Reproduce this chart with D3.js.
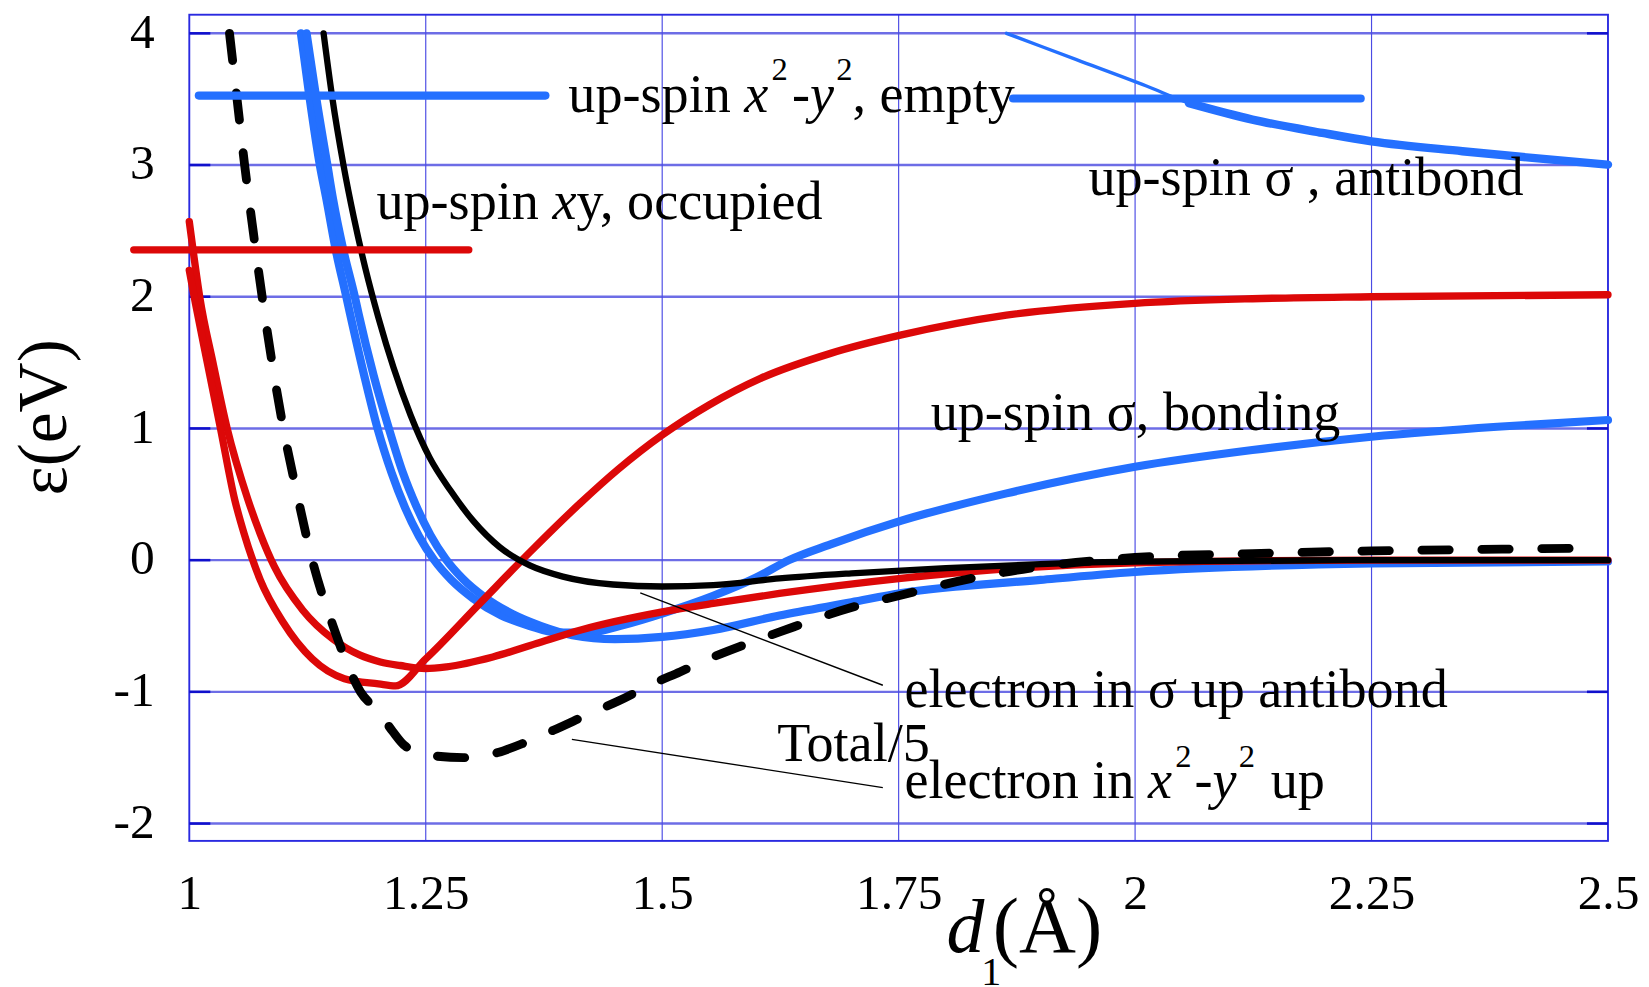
<!DOCTYPE html>
<html><head><meta charset="utf-8">
<script src="https://cdn.jsdelivr.net/npm/d3@7"></script>
<style>
html,body{margin:0;padding:0;background:#fff;overflow:hidden;}
svg{display:block;}
text{font-family:"Liberation Serif","Times New Roman",serif;fill:#000;white-space:pre;}
</style></head><body>
<svg id="chart"></svg>
<script>
// ---------- data ----------
const xTicks = [1, 1.25, 1.5, 1.75, 2, 2.25, 2.5];
const xTickLabels = ["1", "1.25", "1.5", "1.75", "2", "2.25", "2.5"];
const yTicks = [-2, -1, 0, 1, 2, 3, 4];
const yTickLabels = ["-2", "-1", "0", "1", "2", "3", "4"];

// [d1 (Å), ε (eV)]
const redOccupied = [[1.000,2.20],[1.0065,1.95],[1.019,1.50],[1.033,1.00],[1.048,0.46],[1.058,0.20],[1.075,-0.15],[1.099,-0.47],[1.130,-0.75],[1.164,-0.90],[1.200,-0.94],[1.218,-0.955],[1.250,-0.75],[1.307,-0.33],[1.360,0.06],[1.413,0.43],[1.4535,0.69],[1.500,0.95],[1.550,1.18],[1.604,1.38],[1.678,1.57],[1.753,1.71],[1.864,1.86],[2.000,1.95],[2.124,1.985],[2.250,2.00],[2.500,2.015]];
const redElectron = [[1.000,2.57],[1.005,2.30],[1.011,2.00],[1.025,1.50],[1.040,1.00],[1.062,0.46],[1.075,0.20],[1.090,-0.05],[1.120,-0.38],[1.152,-0.60],[1.180,-0.72],[1.202,-0.773],[1.223,-0.80],[1.250,-0.823],[1.272,-0.81],[1.321,-0.735],[1.367,-0.633],[1.413,-0.532],[1.500,-0.393],[1.554,-0.329],[1.624,-0.253],[1.750,-0.14],[1.875,-0.06],[2.000,-0.02],[2.250,0.00],[2.500,0.00]];
const blueBonding = [[1.118,4.00],[1.127,3.52],[1.138,3.00],[1.145,2.74],[1.155,2.35],[1.166,2.00],[1.170,1.87],[1.185,1.40],[1.199,1.00],[1.214,0.66],[1.228,0.40],[1.243,0.18],[1.259,0.00],[1.277,-0.15],[1.300,-0.29],[1.330,-0.42],[1.360,-0.50],[1.388,-0.55],[1.420,-0.55],[1.460,-0.49],[1.500,-0.405],[1.554,-0.27],[1.600,-0.13],[1.634,0.00],[1.678,0.12],[1.753,0.30],[1.864,0.507],[2.000,0.709],[2.124,0.836],[2.250,0.937],[2.383,1.013],[2.500,1.064]];
const blueElectron = [[1.124,4.00],[1.134,3.52],[1.146,3.00],[1.152,2.74],[1.163,2.35],[1.175,2.00],[1.179,1.87],[1.195,1.40],[1.211,1.00],[1.226,0.66],[1.240,0.41],[1.255,0.19],[1.271,0.01],[1.289,-0.14],[1.312,-0.28],[1.342,-0.41],[1.372,-0.50],[1.405,-0.57],[1.450,-0.60],[1.500,-0.583],[1.554,-0.53],[1.624,-0.42],[1.700,-0.32],[1.753,-0.25],[1.900,-0.15],[2.000,-0.09],[2.250,-0.025],[2.500,-0.01]];
const blueAntibond = [[1.864,4.00],[1.938,3.80],[2.012,3.60],[2.057,3.47],[2.124,3.345],[2.198,3.244],[2.250,3.18],[2.346,3.105],[2.420,3.054],[2.500,3.003]];
const blackSigmaElectron = [[1.142,4.00],[1.151,3.52],[1.163,3.00],[1.174,2.60],[1.186,2.22],[1.200,1.84],[1.216,1.46],[1.234,1.10],[1.254,0.78],[1.276,0.53],[1.300,0.30],[1.328,0.10],[1.360,-0.04],[1.395,-0.125],[1.448,-0.185],[1.500,-0.20],[1.554,-0.19],[1.624,-0.139],[1.700,-0.10],[1.800,-0.06],[1.900,-0.03],[2.000,-0.012],[2.250,0.00],[2.500,0.00]];
const blackTotal5 = [[1.0425,4.00],[1.0505,3.50],[1.0585,3.00],[1.0675,2.50],[1.0770,2.00],[1.0875,1.50],[1.0995,1.00],[1.1140,0.50],[1.1300,0.00],[1.1520,-0.50],[1.1810,-1.00],[1.200,-1.15],[1.215,-1.30],[1.228,-1.41],[1.2546,-1.482],[1.2898,-1.50],[1.3215,-1.47],[1.3567,-1.38],[1.3849,-1.292],[1.4236,-1.165],[1.4553,-1.064],[1.4905,-0.937],[1.5187,-0.849],[1.5539,-0.735],[1.5856,-0.646],[1.6243,-0.545],[1.700,-0.36],[1.750,-0.27],[1.826,-0.14],[1.900,-0.05],[2.000,0.02],[2.124,0.05],[2.250,0.07],[2.350,0.08],[2.470,0.09]];

// ---------- layout ----------
const W = 1568, H = 939;
const RED = "#dc0808", BLUE = "#2470ff";
const svg = d3.select("#chart").attr("width", 1649).attr("height", 987)
  .attr("viewBox", `0 0 ${W} ${H}`).attr("preserveAspectRatio", "none");
const x = d3.scaleLinear().domain([1, 2.5]).range([180, 1529]);
const y = d3.scaleLinear().domain([-2, 4]).range([783.5, 31.7]);
const frameTop = 14, frameBottom = 800;

// grid
const grid = svg.append("g");
grid.selectAll("line.h").data(yTicks).join("line").attr("class", "h")
  .attr("x1", x(1)).attr("x2", x(2.5)).attr("y1", d => y(d)).attr("y2", d => y(d))
  .attr("stroke", "#6d6de6").attr("stroke-width", 2.3);
grid.selectAll("line.v").data(xTicks.slice(1, -1)).join("line").attr("class", "v")
  .attr("x1", d => x(d)).attr("x2", d => x(d)).attr("y1", frameTop).attr("y2", frameBottom)
  .attr("stroke", "#4b4be4").attr("stroke-width", 1.1);
grid.append("rect").attr("x", x(1)).attr("y", frameTop).attr("width", x(2.5) - x(1))
  .attr("height", frameBottom - frameTop).attr("fill", "none").attr("stroke", "#2a2ae0").attr("stroke-width", 1.8);
grid.selectAll("line.tl").data(yTicks).join("line").attr("class", "tl")
  .attr("x1", x(1)).attr("x2", x(1) + 20).attr("y1", d => y(d)).attr("y2", d => y(d))
  .attr("stroke", "#1010cc").attr("stroke-width", 2.4);
grid.selectAll("line.tr").data(yTicks).join("line").attr("class", "tr")
  .attr("x1", x(2.5) - 20).attr("x2", x(2.5)).attr("y1", d => y(d)).attr("y2", d => y(d))
  .attr("stroke", "#1010cc").attr("stroke-width", 2.4);

// axes (labels only)
const ax = svg.append("g").attr("transform", "translate(0,865)")
  .call(d3.axisBottom(x).tickValues(xTicks).tickFormat((d, i) => xTickLabels[i]).tickSize(0));
ax.select(".domain").remove();
ax.selectAll("text").attr("y", 0).attr("dy", 0).attr("font-size", 47)
  .attr("font-family", "Liberation Serif, Times New Roman, serif").attr("fill", "#000");
const ay = svg.append("g").attr("transform", "translate(147,0)")
  .call(d3.axisLeft(y).tickValues(yTicks).tickFormat((d, i) => yTickLabels[i]).tickSize(0));
ay.select(".domain").remove();
ay.selectAll("text").attr("x", 0).attr("dy", 13).attr("font-size", 47)
  .attr("font-family", "Liberation Serif, Times New Roman, serif").attr("fill", "#000");

// curves
const line = d3.line().x(d => x(d[0])).y(d => y(d[1])).curve(d3.curveMonotoneX);
const curves = svg.append("g").attr("fill", "none").attr("stroke-linecap", "round").attr("stroke-linejoin", "round");
function draw(data, color, width, dash) {
  const p = curves.append("path").datum(data).attr("d", line)
    .attr("stroke", color).attr("stroke-width", width);
  if (dash) p.attr("stroke-dasharray", dash);
  return p;
}
draw(blueBonding, BLUE, 7.8);
draw(blueElectron, BLUE, 7.8);
draw(blueAntibond, BLUE, 3.2);
draw(blueAntibond.filter(d => d[0] >= 2.05), BLUE, 8);
draw(redElectron, RED, 7);
draw(redOccupied, RED, 7);
draw(blackSigmaElectron, "#000", 6);

// legend segments
const leg = svg.append("g").attr("stroke-linecap", "round");
leg.append("line").attr("x1", x(1.0101)).attr("x2", x(1.3765)).attr("y1", y(3.527)).attr("y2", y(3.527))
  .attr("stroke", BLUE).attr("stroke-width", 7.8);
leg.append("line").attr("x1", x(1.871)).attr("x2", x(2.2385)).attr("y1", y(3.505)).attr("y2", y(3.505))
  .attr("stroke", BLUE).attr("stroke-width", 7.8);
leg.append("line").attr("x1", x(0.9413)).attr("x2", x(1.2955)).attr("y1", y(2.356)).attr("y2", y(2.356))
  .attr("stroke", RED).attr("stroke-width", 7);

draw(blackTotal5, "#000", 8.4, "26,31");

// pointer lines
const ptr = svg.append("g").attr("stroke", "#000").attr("stroke-width", 1.3);
ptr.append("line").attr("x1", x(1.4768)).attr("y1", y(-0.248)).attr("x2", x(1.7333)).attr("y2", y(-0.95));
ptr.append("line").attr("x1", x(1.4045)).attr("y1", y(-1.361)).attr("x2", x(1.7333)).attr("y2", y(-1.727));

// labels
const LBL = 51.5, SUP = 31, SHIFT = 30;
function rich(d, e, parts) {
  const t = svg.append("text").attr("x", x(d)).attr("y", y(e)).attr("font-size", LBL);
  let raised = false;
  parts.forEach(p => {
    const s = t.append("tspan").text(p.t);
    if (p.it) s.attr("font-style", "italic");
    if (p.sup) { s.attr("font-size", SUP).attr("dy", -SHIFT); raised = true; }
    else if (raised) { s.attr("dy", SHIFT); raised = false; }
    if (p.dx) s.attr("dx", p.dx);
  });
}
rich(1.4008, 3.403, [{t:"up-spin "},{t:"x",it:true},{t:"2",sup:true,dx:3},{t:"-",dx:4},{t:"y",it:true},{t:"2",sup:true,dx:2},{t:", empty"}]);
rich(1.1979, 2.587, [{t:"up-spin "},{t:"x",it:true},{t:"y, occupied"}]);
rich(1.9507, 2.774, [{t:"up-spin σ , antibond"}]);
rich(1.7839, 0.986, [{t:"up-spin σ, bonding"}]);
rich(1.7561, -1.113, [{t:"electron in σ up antibond"}]);
rich(1.6216, -1.528, [{t:"Total/5"}]);
rich(1.7561, -1.807, [{t:"electron in "},{t:"x",it:true},{t:"2",sup:true,dx:3},{t:"-",dx:3},{t:"y",it:true},{t:"2",sup:true,dx:2},{t:" up",dx:2}]);

// axis titles
svg.append("text").attr("transform", "translate(63,397) rotate(-90)")
  .attr("text-anchor", "middle").attr("font-size", 66).text("ε(eV)");
svg.append("text").attr("x", 900).attr("y", 906).attr("font-size", 72).attr("font-style", "italic").text("d");
svg.append("text").attr("x", 933).attr("y", 937).attr("font-size", 38).text("1");
svg.append("text").attr("x", 944).attr("y", 906).attr("font-size", 75).text("(Å)");
</script>
</body></html>
